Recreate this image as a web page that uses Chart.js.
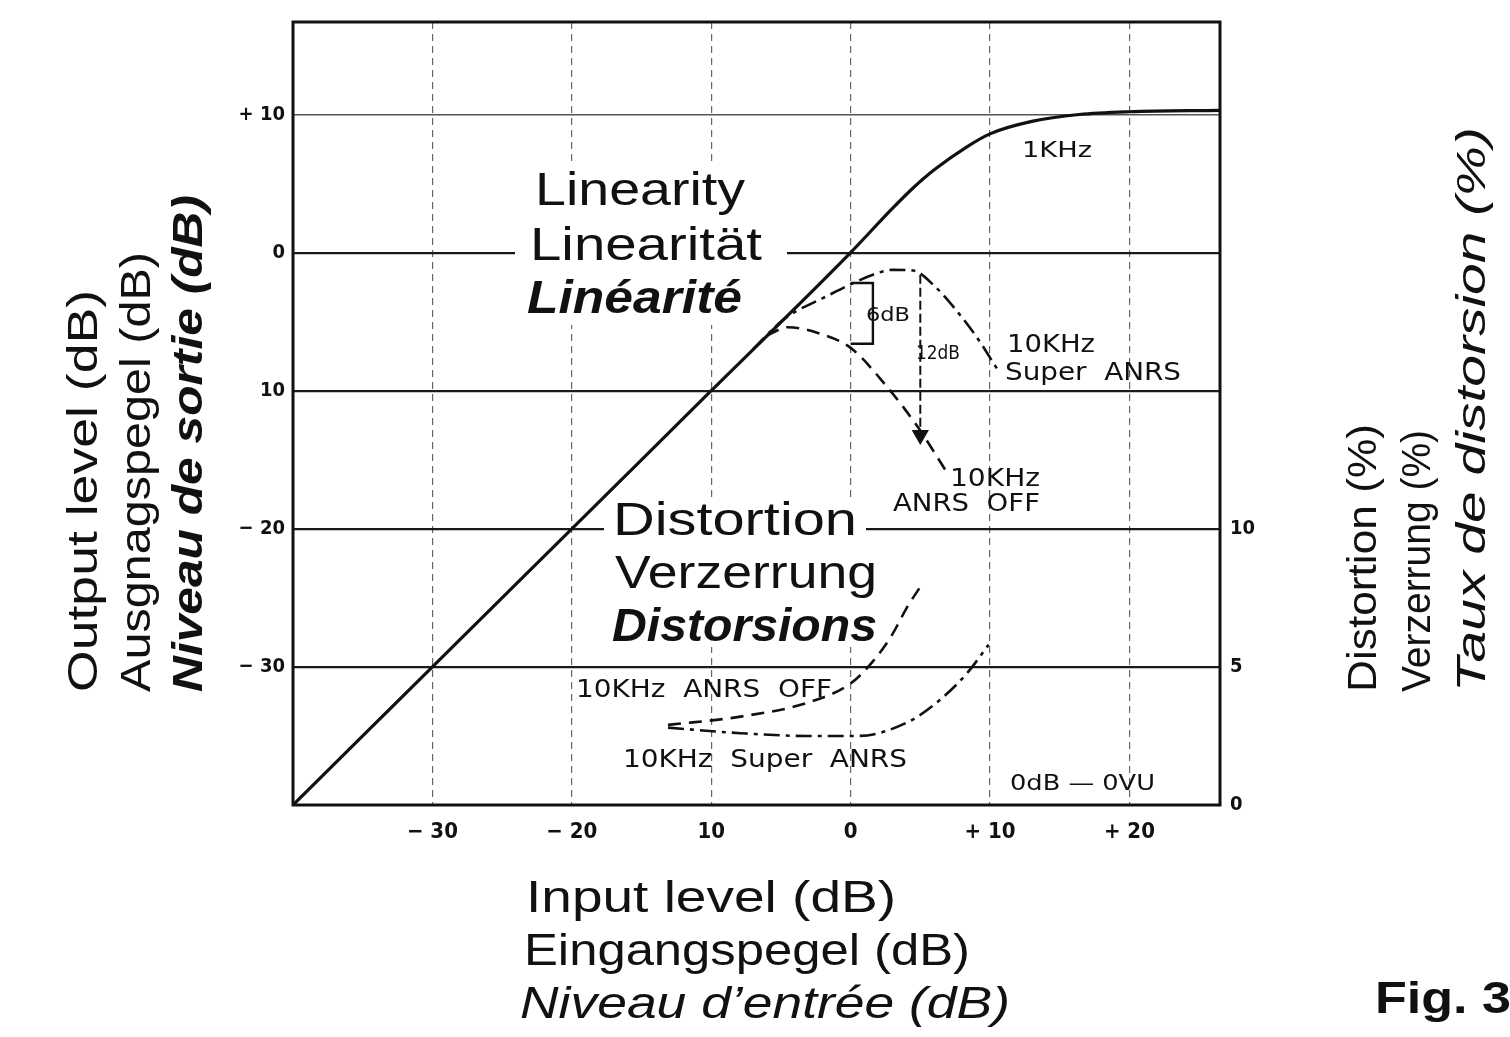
<!DOCTYPE html>
<html>
<head>
<meta charset="utf-8">
<script src="https://cdn.jsdelivr.net/npm/chart.js@4"></script>
<style>
html, body { margin: 0; padding: 0; background: #fff; overflow: hidden; }
</style>
</head>
<body>
<canvas id="linearity" width="1510" height="1037"></canvas>
<script>
// axis ticks (labels as printed)
const xTicks = [-30, -20, -10, 0, 10, 20];
const xTickLabels = ['\u2212 30', '\u2212 20', '10', '0', '+ 10', '+ 20'];
const yTicks = [-30, -20, -10, 0, 10];
const yTickLabels = ['\u2212 30', '\u2212 20', '10', '0', '+ 10'];
const distTicks = [0, 5, 10];
const distTickLabels = ['0', '5', '10'];

// 1 kHz output level (dB) vs input level (dB)
const in1k = [-40, -30, -20, -10, 0, 3, 4.5, 6, 8.4, 10, 13, 16.4, 20, 26.5];
const out1k = [-40, -30, -20, -10, 0, 3.2, 4.7, 6.0, 7.7, 8.6, 9.5, 10.0, 10.2, 10.3];

// 10 kHz Super ANRS output
const inSuper = [-7, -5, -4, -2, 0, 1.6, 3, 4.5, 6, 7.6, 9.1, 10.5];
const outSuper = [-7, -5, -4.3, -3.3, -2.3, -1.6, -1.25, -1.3, -2.4, -4.2, -6.2, -8.4];

// 10 kHz ANRS OFF output
const inOff = [-6, -4.5, -2.4, 0, 2.6, 4.8, 6.9];
const outOff = [-6, -5.4, -5.8, -6.9, -9.7, -12.6, -15.9];

// distortion (%) vs input level
const inDistOff = [-13.1, -7.9, -3.1, 0, 1.6, 2.9, 4.1, 5.0];
const distOff = [2.9, 3.2, 3.7, 4.4, 5.2, 6.1, 7.2, 7.9];
const inDistSuper = [-13.1, -7.9, -3.1, 0.5, 4.1, 6.4, 8.4, 9.9];
const distSuper = [2.8, 2.6, 2.5, 2.5, 3.0, 3.8, 4.8, 5.8];

// 12 dB arrow and 6 dB bracket
const arrowX = [5, 5];
const arrowY = [-1.6, -13.2];
const bracketX = [0, 1.6, 1.6, 0];
const bracketY = [-2.2, -2.2, -6.6, -6.6];

function pts(xs, ys) {
    return xs.map((x, i) => ({ x: x, y: ys[i] }));
}

const SANS = '"Liberation Sans", Arial, sans-serif';
const NARROW = '"Liberation Sans Narrow", "DejaVu Sans Condensed", sans-serif';

// draws text stretched horizontally to a given width
function fitText(ctx, text, x, y, w, font) {
    ctx.save();
    ctx.font = font;
    const m = ctx.measureText(text).width;
    ctx.translate(x, y);
    ctx.scale(w / m, 1);
    ctx.fillText(text, 0, 0);
    ctx.restore();
}

function vText(ctx, text, x, y, len, font) {
    ctx.save();
    ctx.translate(x, y);
    ctx.rotate(-Math.PI / 2);
    fitText(ctx, text, 0, 0, len, font);
    ctx.restore();
}

const annotations = {
    id: 'annotations',
    beforeDatasetsDraw(chart) {
        const ctx = chart.ctx;
        ctx.save();
        ctx.fillStyle = '#fff';
        ctx.fillRect(515, 165, 272, 160);
        ctx.fillRect(604, 497, 262, 150);
        ctx.fillStyle = '#111';
        ctx.textBaseline = 'alphabetic';
        ctx.textAlign = 'left';
        fitText(ctx, 'Linearity', 535, 205, 210, '46px ' + SANS);
        fitText(ctx, 'Linearit\u00e4t', 530, 260, 232, '46px ' + SANS);
        fitText(ctx, 'Lin\u00e9arit\u00e9', 527, 313, 215, 'italic bold 46px ' + SANS);
        fitText(ctx, 'Distortion', 613, 535, 244, '47px ' + SANS);
        fitText(ctx, 'Verzerrung', 615, 588, 262, '47px ' + SANS);
        fitText(ctx, 'Distorsions', 612, 641, 265, 'italic bold 47px ' + SANS);

        const small = '22px ' + NARROW;
        fitText(ctx, '1KHz', 1022, 157, 70, small);
        fitText(ctx, '6dB', 866, 321, 44, '20px ' + NARROW);
        fitText(ctx, '12dB', 916, 359, 44, '20px ' + NARROW);
        fitText(ctx, '10KHz', 1007, 352, 88, '24px ' + NARROW);
        fitText(ctx, 'Super  ANRS', 1005, 380, 176, '24px ' + NARROW);
        fitText(ctx, '10KHz', 950, 486, 90, '24px ' + NARROW);
        fitText(ctx, 'ANRS  OFF', 893, 511, 147, '24px ' + NARROW);
        fitText(ctx, '10KHz  ANRS  OFF', 576, 697, 256, '24px ' + NARROW);
        fitText(ctx, '10KHz  Super  ANRS', 623, 767, 284, '24px ' + NARROW);
        fitText(ctx, '0dB \u2014 0VU', 1010, 790, 145, '22px ' + NARROW);
        ctx.restore();
    },
    afterDraw(chart) {
        const ctx = chart.ctx;
        const a = chart.chartArea;
        ctx.save();
        ctx.strokeStyle = '#111';
        ctx.lineWidth = 3;
        ctx.strokeRect(a.left, a.top, a.right - a.left, a.bottom - a.top);

        ctx.fillStyle = '#111';
        ctx.textBaseline = 'alphabetic';
        // x axis title
        fitText(ctx, 'Input level (dB)', 526, 912, 370, '44px ' + SANS);
        fitText(ctx, 'Eingangspegel (dB)', 524, 965, 446, '44px ' + SANS);
        fitText(ctx, 'Niveau d\u2019entr\u00e9e (dB)', 520, 1018, 490, 'italic 44px ' + SANS);
        // left title
        vText(ctx, 'Output level (dB)', 97, 692, 402, '42px ' + SANS);
        vText(ctx, 'Ausgnagspegel (dB)', 150, 692, 440, '42px ' + SANS);
        vText(ctx, 'Niveau de sortie (dB)', 202, 692, 497, 'italic bold 42px ' + SANS);
        // right title
        vText(ctx, 'Distortion (%)', 1376, 692, 268, '40px ' + SANS);
        vText(ctx, 'Verzerrung (%)', 1430, 692, 262, '40px ' + SANS);
        vText(ctx, 'Taux de distorsion (%)', 1485, 692, 565, 'italic 40px ' + SANS);
        // figure caption (cut at page edge)
        fitText(ctx, 'Fig. 3a', 1375, 1013, 165, 'bold 44px ' + SANS);
        ctx.restore();
    }
};

const tickFont = { family: NARROW, size: 22, weight: 'bold' };

const config = {
    type: 'line',
    data: {
        datasets: [{
            label: '1KHz',
            data: pts(in1k, out1k),
            borderColor: '#111',
            borderWidth: 3.2,
            pointRadius: 0,
            cubicInterpolationMode: 'monotone',
            yAxisID: 'y'
        }, {
            label: '10KHz Super ANRS',
            data: pts(inSuper, outSuper),
            borderColor: '#111',
            borderWidth: 2.6,
            borderDash: [16, 6, 4, 6],
            pointRadius: 0,
            cubicInterpolationMode: 'monotone',
            yAxisID: 'y'
        }, {
            label: '10KHz ANRS OFF',
            data: pts(inOff, outOff),
            borderColor: '#111',
            borderWidth: 2.6,
            borderDash: [13, 8],
            pointRadius: 0,
            cubicInterpolationMode: 'monotone',
            yAxisID: 'y'
        }, {
            label: 'Distortion ANRS OFF',
            data: pts(inDistOff, distOff),
            borderColor: '#111',
            borderWidth: 2.6,
            borderDash: [13, 8],
            pointRadius: 0,
            cubicInterpolationMode: 'monotone',
            yAxisID: 'y2'
        }, {
            label: 'Distortion Super ANRS',
            data: pts(inDistSuper, distSuper),
            borderColor: '#111',
            borderWidth: 2.6,
            borderDash: [16, 6, 4, 6],
            pointRadius: 0,
            cubicInterpolationMode: 'monotone',
            yAxisID: 'y2'
        }, {
            label: '12dB',
            data: pts(arrowX, arrowY),
            borderColor: '#111',
            backgroundColor: '#111',
            borderWidth: 2,
            borderDash: [9, 4],
            pointStyle: 'triangle',
            pointRotation: 180,
            pointRadius: [0, 8],
            tension: 0,
            yAxisID: 'y'
        }, {
            label: '6dB',
            data: pts(bracketX, bracketY),
            borderColor: '#111',
            borderWidth: 2.4,
            pointRadius: 0,
            tension: 0,
            yAxisID: 'y'
        }]
    },
    plugins: [annotations],
    options: {
        responsive: false,
        animation: false,
        layout: { padding: { top: 18, left: 0, right: 0, bottom: 0 } },
        plugins: {
            legend: { display: false },
            tooltip: { enabled: false }
        },
        scales: {
            x: {
                type: 'linear',
                min: -40,
                max: 26.5,
                afterBuildTicks: (s) => { s.ticks = xTicks.map(v => ({ value: v })); },
                afterFit: (s) => { s.height = 232; },
                grid: { color: '#666', lineWidth: 1.2, drawTicks: false },
                border: { display: false, dash: [7, 5] },
                ticks: {
                    padding: 14,
                    color: '#111',
                    font: tickFont,
                    callback: (v, i) => xTickLabels[i]
                }
            },
            y: {
                type: 'linear',
                position: 'left',
                min: -40,
                max: 16.7,
                afterBuildTicks: (s) => { s.ticks = yTicks.map(v => ({ value: v })); },
                afterFit: (s) => { s.width = 293; },
                grid: {
                    color: (c) => c.tick && c.tick.value === 10 ? '#555' : '#1a1a1a',
                    lineWidth: (c) => c.tick && c.tick.value === 10 ? 1.5 : 2.2,
                    drawTicks: false
                },
                border: { display: false },
                ticks: {
                    padding: 8,
                    color: '#111',
                    font: { family: NARROW, size: 20, weight: 'bold' },
                    callback: (v, i) => yTickLabels[i]
                }
            },
            y2: {
                type: 'linear',
                position: 'right',
                min: 0,
                max: 28.35,
                afterBuildTicks: (s) => { s.ticks = distTicks.map(v => ({ value: v })); },
                afterFit: (s) => { s.width = 290; },
                grid: { display: false, drawTicks: false },
                border: { display: false },
                ticks: {
                    padding: 10,
                    color: '#111',
                    font: { family: NARROW, size: 20, weight: 'bold' },
                    callback: (v, i) => distTickLabels[i]
                }
            }
        }
    }
};

const myChart = new Chart(document.getElementById('linearity'), config);
</script>
</body>
</html>
